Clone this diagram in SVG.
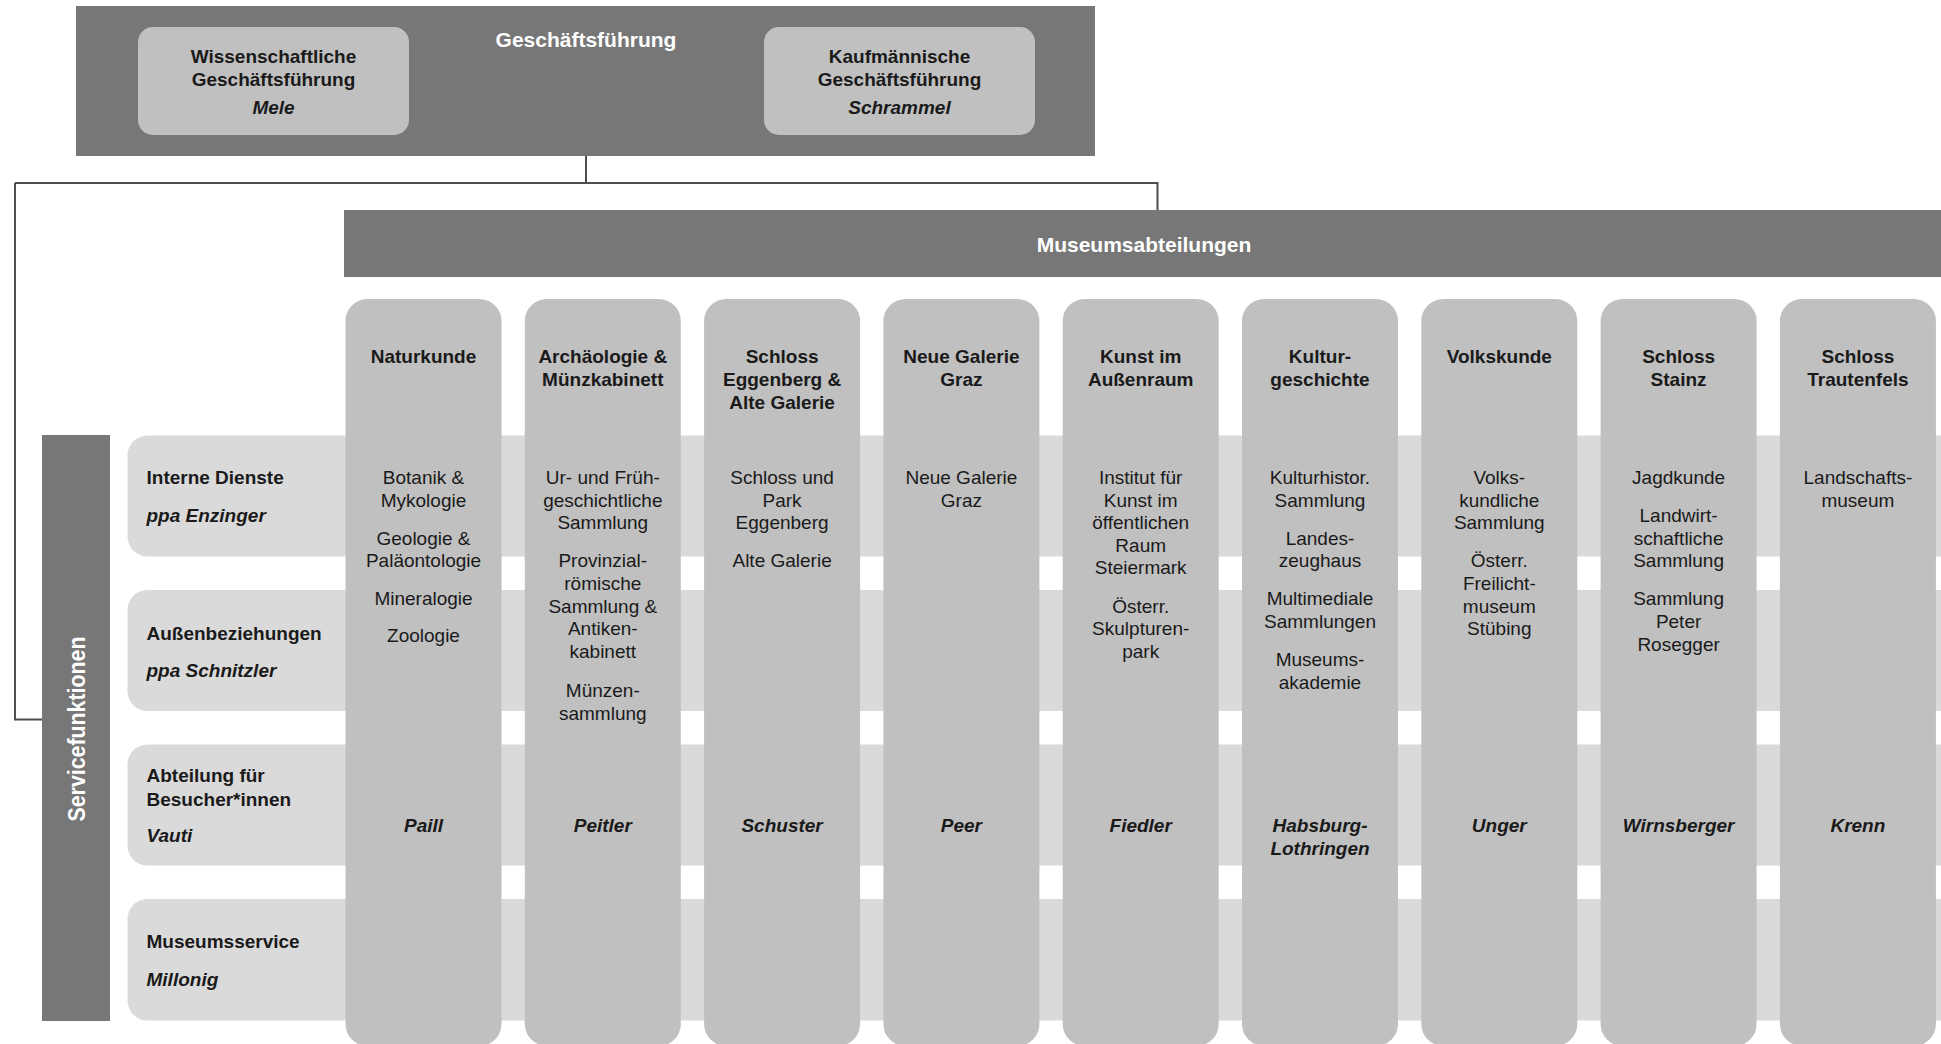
<svg xmlns="http://www.w3.org/2000/svg" width="1941" height="1044" viewBox="0 0 1941 1044">
<style>
.dark{fill:#777777}
.col{fill:#c0c0c0}
.band{fill:#dadada}
.box{fill:#c0c0c0}
text{font-family:"Liberation Sans",Arial,sans-serif;font-size:19px;fill:#1a1a1a}
.b{font-weight:bold}
.i{font-style:italic;font-weight:bold}
.c{text-anchor:middle}
.w{fill:#ffffff;font-weight:bold;font-size:21px;text-anchor:middle}
.conn{stroke:#4d4d4d;stroke-width:2;fill:none}
</style>
<rect width="1941" height="1044" fill="#ffffff"/>

<g id="connectors">
<path class="conn" d="M586,156 V183"/>
<path class="conn" d="M15,183 H1157.5 V210"/>
<path class="conn" d="M15,183 V719.5 H42"/>
</g>

<g id="geschaeftsfuehrung">
<rect class="dark" x="76" y="6" width="1019" height="150"/>
<text class="w" x="586" y="47">Geschäftsführung</text>
</g>
<g id="wiss-gf">
<rect class="box" x="138" y="27" width="271" height="108" rx="15"/>
<text class="b c" x="273.5" y="63">Wissenschaftliche</text>
<text class="b c" x="273.5" y="86">Geschäftsführung</text>
<text class="i c" x="273.5" y="114">Mele</text>
</g>
<g id="kaufm-gf">
<rect class="box" x="764" y="27" width="271" height="108" rx="15"/>
<text class="b c" x="899.5" y="63">Kaufmännische</text>
<text class="b c" x="899.5" y="86">Geschäftsführung</text>
<text class="i c" x="899.5" y="114">Schrammel</text>
</g>

<g id="museumsabteilungen">
<rect class="dark" x="344" y="210" width="1600" height="67"/>
<text class="w" x="1144" y="252">Museumsabteilungen</text>
</g>

<g id="servicefunktionen">
<rect class="dark" x="42" y="435" width="68" height="586"/>
<text class="w" transform="translate(85,729) rotate(-90)" font-size="23" textLength="185" lengthAdjust="spacingAndGlyphs" style="font-size:23px">Servicefunktionen</text>
</g>

<g id="row-interne-dienste">
<rect class="band" x="127.5" y="435.5" width="1850" height="121" rx="20"/>
<text class="b" x="146.5" y="484">Interne Dienste</text>
<text class="i" x="146.5" y="522">ppa Enzinger</text>
</g>
<g id="row-aussenbeziehungen">
<rect class="band" x="127.5" y="590" width="1850" height="121" rx="20"/>
<text class="b" x="146.5" y="640">Außenbeziehungen</text>
<text class="i" x="146.5" y="677">ppa Schnitzler</text>
</g>
<g id="row-besucher">
<rect class="band" x="127.5" y="744.5" width="1850" height="121" rx="20"/>
<text class="b" x="146.5" y="782">Abteilung für</text>
<text class="b" x="146.5" y="806">Besucher*innen</text>
<text class="i" x="146.5" y="842">Vauti</text>
</g>
<g id="row-museumsservice">
<rect class="band" x="127.5" y="899" width="1850" height="121.5" rx="20"/>
<text class="b" x="146.5" y="948">Museumsservice</text>
<text class="i" x="146.5" y="986">Millonig</text>
</g>

<g id="col-naturkunde">
<rect class="col" x="345.5" y="299" width="156" height="747" rx="22"/>
<text class="b c" x="423.5" y="363">Naturkunde</text>
<text class="c" x="423.5" y="484">Botanik &amp;</text>
<text class="c" x="423.5" y="506.5">Mykologie</text>
<text class="c" x="423.5" y="544.5">Geologie &amp;</text>
<text class="c" x="423.5" y="567">Paläontologie</text>
<text class="c" x="423.5" y="605">Mineralogie</text>
<text class="c" x="423.5" y="642">Zoologie</text>
<text class="i c" x="423.5" y="832">Paill</text>
</g>
<g id="col-archaeologie">
<rect class="col" x="524.8" y="299" width="156" height="747" rx="22"/>
<text class="b c" x="602.8" y="363">Archäologie &amp;</text>
<text class="b c" x="602.8" y="386">Münzkabinett</text>
<text class="c" x="602.8" y="484">Ur- und Früh-</text>
<text class="c" x="602.8" y="506.5">geschichtliche</text>
<text class="c" x="602.8" y="529">Sammlung</text>
<text class="c" x="602.8" y="567">Provinzial-</text>
<text class="c" x="602.8" y="590">römische</text>
<text class="c" x="602.8" y="612.5">Sammlung &amp;</text>
<text class="c" x="602.8" y="635">Antiken-</text>
<text class="c" x="602.8" y="658">kabinett</text>
<text class="c" x="602.8" y="696.5">Münzen-</text>
<text class="c" x="602.8" y="719.5">sammlung</text>
<text class="i c" x="602.8" y="832">Peitler</text>
</g>
<g id="col-eggenberg">
<rect class="col" x="704.1" y="299" width="156" height="747" rx="22"/>
<text class="b c" x="782.1" y="363">Schloss</text>
<text class="b c" x="782.1" y="386">Eggenberg &amp;</text>
<text class="b c" x="782.1" y="409">Alte Galerie</text>
<text class="c" x="782.1" y="484">Schloss und</text>
<text class="c" x="782.1" y="506.5">Park</text>
<text class="c" x="782.1" y="529">Eggenberg</text>
<text class="c" x="782.1" y="567">Alte Galerie</text>
<text class="i c" x="782.1" y="832">Schuster</text>
</g>
<g id="col-neue-galerie">
<rect class="col" x="883.4" y="299" width="156" height="747" rx="22"/>
<text class="b c" x="961.4" y="363">Neue Galerie</text>
<text class="b c" x="961.4" y="386">Graz</text>
<text class="c" x="961.4" y="484">Neue Galerie</text>
<text class="c" x="961.4" y="506.5">Graz</text>
<text class="i c" x="961.4" y="832">Peer</text>
</g>
<g id="col-kunst-aussenraum">
<rect class="col" x="1062.7" y="299" width="156" height="747" rx="22"/>
<text class="b c" x="1140.7" y="363">Kunst im</text>
<text class="b c" x="1140.7" y="386">Außenraum</text>
<text class="c" x="1140.7" y="484">Institut für</text>
<text class="c" x="1140.7" y="506.5">Kunst im</text>
<text class="c" x="1140.7" y="529">öffentlichen</text>
<text class="c" x="1140.7" y="551.5">Raum</text>
<text class="c" x="1140.7" y="574">Steiermark</text>
<text class="c" x="1140.7" y="612.5">Österr.</text>
<text class="c" x="1140.7" y="635">Skulpturen-</text>
<text class="c" x="1140.7" y="658">park</text>
<text class="i c" x="1140.7" y="832">Fiedler</text>
</g>
<g id="col-kulturgeschichte">
<rect class="col" x="1242" y="299" width="156" height="747" rx="22"/>
<text class="b c" x="1320" y="363">Kultur-</text>
<text class="b c" x="1320" y="386">geschichte</text>
<text class="c" x="1320" y="484">Kulturhistor.</text>
<text class="c" x="1320" y="506.5">Sammlung</text>
<text class="c" x="1320" y="544.5">Landes-</text>
<text class="c" x="1320" y="567">zeughaus</text>
<text class="c" x="1320" y="605">Multimediale</text>
<text class="c" x="1320" y="627.5">Sammlungen</text>
<text class="c" x="1320" y="666">Museums-</text>
<text class="c" x="1320" y="688.5">akademie</text>
<text class="i c" x="1320" y="832">Habsburg-</text>
<text class="i c" x="1320" y="855">Lothringen</text>
</g>
<g id="col-volkskunde">
<rect class="col" x="1421.3" y="299" width="156" height="747" rx="22"/>
<text class="b c" x="1499.3" y="363">Volkskunde</text>
<text class="c" x="1499.3" y="484">Volks-</text>
<text class="c" x="1499.3" y="506.5">kundliche</text>
<text class="c" x="1499.3" y="529">Sammlung</text>
<text class="c" x="1499.3" y="567">Österr.</text>
<text class="c" x="1499.3" y="590">Freilicht-</text>
<text class="c" x="1499.3" y="612.5">museum</text>
<text class="c" x="1499.3" y="635">Stübing</text>
<text class="i c" x="1499.3" y="832">Unger</text>
</g>
<g id="col-stainz">
<rect class="col" x="1600.6" y="299" width="156" height="747" rx="22"/>
<text class="b c" x="1678.6" y="363">Schloss</text>
<text class="b c" x="1678.6" y="386">Stainz</text>
<text class="c" x="1678.6" y="484">Jagdkunde</text>
<text class="c" x="1678.6" y="521.5">Landwirt-</text>
<text class="c" x="1678.6" y="544.5">schaftliche</text>
<text class="c" x="1678.6" y="567">Sammlung</text>
<text class="c" x="1678.6" y="605">Sammlung</text>
<text class="c" x="1678.6" y="627.5">Peter</text>
<text class="c" x="1678.6" y="650.5">Rosegger</text>
<text class="i c" x="1678.6" y="832">Wirnsberger</text>
</g>
<g id="col-trautenfels">
<rect class="col" x="1779.9" y="299" width="156" height="747" rx="22"/>
<text class="b c" x="1857.9" y="363">Schloss</text>
<text class="b c" x="1857.9" y="386">Trautenfels</text>
<text class="c" x="1857.9" y="484">Landschafts-</text>
<text class="c" x="1857.9" y="506.5">museum</text>
<text class="i c" x="1857.9" y="832">Krenn</text>
</g>
</svg>
